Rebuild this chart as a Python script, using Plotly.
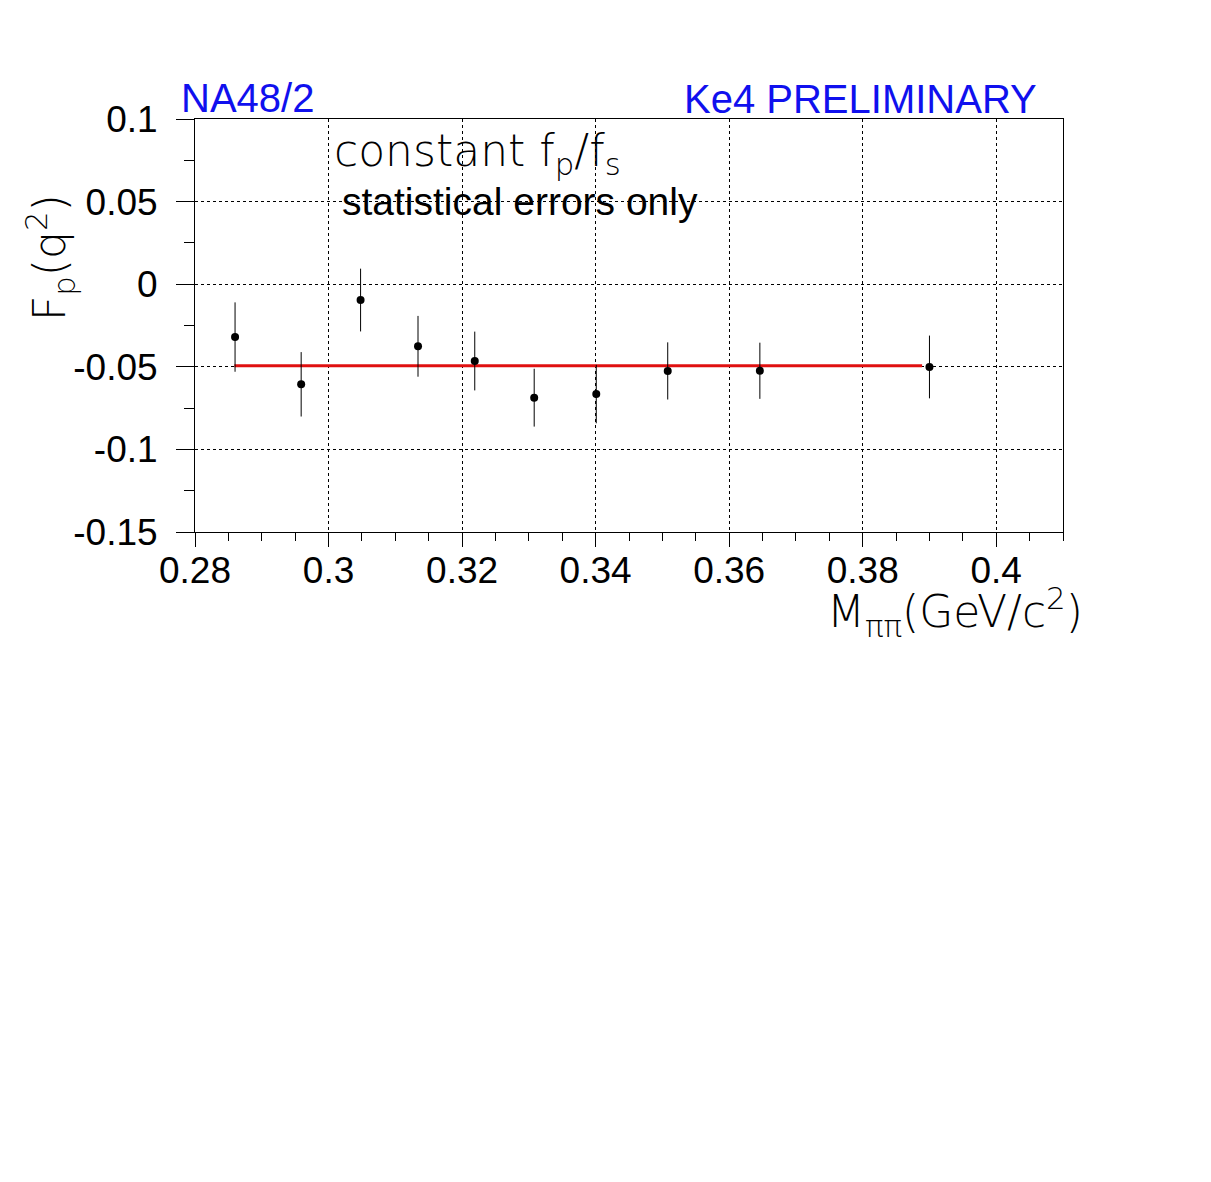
import plotly.graph_objects as go

# NA48/2 Ke4 form factor Fp vs M_pipi
m_pipi = [0.2860, 0.2959, 0.3048, 0.3134, 0.3219, 0.3308, 0.3401, 0.3508, 0.3646, 0.3900]
fp = [-0.0320, -0.0606, -0.0096, -0.0376, -0.0465, -0.0687, -0.0665, -0.0525, -0.0524, -0.0501]
fp_err = [0.0210, 0.0195, 0.0190, 0.0184, 0.0178, 0.0175, 0.0177, 0.0173, 0.0170, 0.0190]

fit_x = [0.2859, 0.3889]
fit_y = [-0.0493, -0.0493]

x_ticks = [0.28, 0.30, 0.32, 0.34, 0.36, 0.38, 0.40]
x_labels = ["0.28", "0.3", "0.32", "0.34", "0.36", "0.38", "0.4"]
y_ticks = [-0.15, -0.10, -0.05, 0.0, 0.05, 0.10]
y_labels = ["-0.15", "-0.1", "-0.05", "0", "0.05", "0.1"]

TICK_FONT = dict(family="Liberation Sans, Arial, sans-serif", size=37, color="black")
THIN_FONT = dict(family="DejaVu Sans", size=44, color="black", weight=200)
BLUE = "#1010ee"

fig = go.Figure()

# constant fit
fig.add_trace(go.Scatter(
    x=fit_x, y=fit_y, mode="lines",
    line=dict(color="#e01010", width=3),
    hoverinfo="skip",
))

# data points, statistical errors only
fig.add_trace(go.Scatter(
    x=m_pipi, y=fp, mode="markers",
    marker=dict(color="black", size=8),
    error_y=dict(type="data", array=fp_err, color="black", thickness=1, width=0),
))

fig.update_xaxes(
    range=[0.28, 0.41],
    tickvals=x_ticks, ticktext=x_labels,
    ticks="outside", ticklen=14, tickwidth=1, tickcolor="black",
    ticklabelstandoff=-8,
    minor=dict(dtick=0.005, tick0=0.28, ticks="outside", ticklen=8, tickcolor="black", showgrid=False),
    showline=True, linecolor="black", linewidth=1, mirror=True,
    showgrid=True, gridcolor="black", griddash="dot", gridwidth=1,
    zeroline=False, tickfont=TICK_FONT,
)
fig.update_yaxes(
    range=[-0.15, 0.1],
    tickvals=y_ticks, ticktext=y_labels,
    ticks="outside", ticklen=18, tickwidth=1, tickcolor="black",
    ticklabelstandoff=11,
    minor=dict(dtick=0.025, tick0=0.0, ticks="outside", ticklen=10, tickcolor="black", showgrid=False),
    showline=True, linecolor="black", linewidth=1, mirror=True,
    showgrid=True, gridcolor="black", griddash="dot", gridwidth=1,
    zeroline=False, tickfont=TICK_FONT,
)

annotations = [
    dict(text="NA48/2", x=-0.0179, y=1.0508, xanchor="left", yanchor="middle",
         font=dict(family="Liberation Sans, Arial", size=40, color=BLUE)),
    dict(text="Ke4 PRELIMINARY", x=0.9723, y=1.0484, xanchor="right", yanchor="middle",
         font=dict(family="Liberation Sans, Arial", size=40, color=BLUE)),
    dict(text="constant f<sub>p</sub>/f<sub>s</sub>", x=0.1575, y=0.917,
         xanchor="left", yanchor="middle", font=THIN_FONT),
    dict(text="statistical errors only", x=0.1665, y=0.7995, xanchor="left", yanchor="middle",
         font=dict(family="Liberation Sans, Arial", size=39, color="black")),
    dict(text="F<sub>p</sub>(q<sup>2</sup>)", x=-0.167, y=0.6634, textangle=-90,
         xanchor="center", yanchor="middle", font=THIN_FONT),
    dict(text="M<sub>ππ</sub>(GeV/c<sup>2</sup>)", x=1.0254, y=-0.1937,
         xanchor="right", yanchor="middle", font=THIN_FONT),
]
for a in annotations:
    a.update(xref="paper", yref="paper", showarrow=False)

fig.update_layout(
    width=1211, height=1182,
    margin=dict(l=187, r=156, t=111, b=658),
    paper_bgcolor="white", plot_bgcolor="white",
    showlegend=False,
    annotations=annotations,
)

fig.write_html("out.html")
